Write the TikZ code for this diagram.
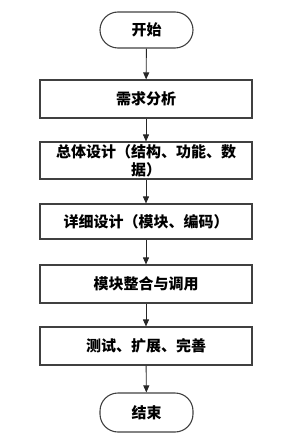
\documentclass[tikz,border=0pt]{standalone}
\usepackage{fontspec}
\setmainfont{Noto Sans CJK SC}
\usetikzlibrary{arrows.meta}
\tikzset{
  box/.style={draw=black!75, line width=1.1pt, rectangle, minimum width=212pt, inner sep=0pt, align=center, font=\fontsize{15}{18}\selectfont\bfseries},
  term/.style={draw=black!75, line width=1.1pt, rectangle, rounded corners=18pt, minimum width=93pt, inner sep=0pt, font=\fontsize{15}{18}\selectfont\bfseries},
  flow/.style={draw=black!85, line width=0.9pt, -{Triangle[width=6pt,length=7pt]}}
}
\begin{document}
\begin{tikzpicture}[x=1pt,y=-1pt]
\useasboundingbox (0,0) rectangle (297,441);
\node[term, minimum height=36pt] (start) at (146.5,30) {开始};
\node[box, minimum height=38pt] (b1) at (146,99) {需求分析};
\node[box, minimum height=37pt] (b2) at (146,160.5) {总体设计（结构、功能、数\\据）};
\node[box, minimum height=35pt] (b3) at (146,221.5) {详细设计（模块、编码）};
\node[box, minimum height=38pt] (b4) at (146,284) {模块整合与调用};
\node[box, minimum height=38pt] (b5) at (146,346) {测试、扩展、完善};
\node[term, minimum height=39pt] (end) at (146.5,412.5) {结束};
\draw[flow] (start) -- (b1);
\draw[flow] (b1) -- (b2);
\draw[flow] (b2) -- (b3);
\draw[flow] (b3) -- (b4);
\draw[flow] (b4) -- (b5);
\draw[flow] (b5) -- (end);
\end{tikzpicture}
\end{document}
